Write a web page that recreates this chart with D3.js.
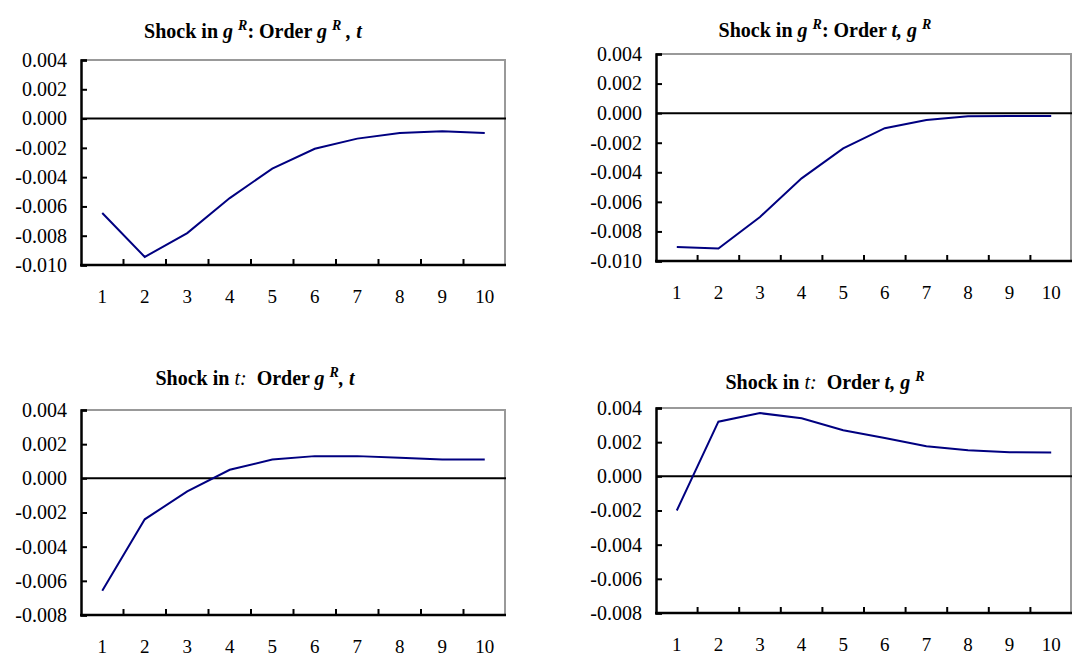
<!DOCTYPE html>
<html>
<head>
<meta charset="utf-8">
<script src="https://cdn.jsdelivr.net/npm/d3@7"></script>
<style>
  body { margin: 0; background: #fff; }
  svg { display: block; }
  text { font-family: "Liberation Serif", "Times New Roman", serif; }
</style>
</head>
<body>
<script>
// data
var periods = [1, 2, 3, 4, 5, 6, 7, 8, 9, 10];
var shockGR_orderGRt = [-0.00645, -0.00945, -0.00782, -0.00543, -0.00342, -0.00206, -0.00137, -0.00099, -0.00086, -0.00099];
var shockGR_orderTGR = [-0.00905, -0.00916, -0.00702, -0.00441, -0.00238, -0.00102, -0.00046, -0.00021, -0.0002, -0.0002];
var shockT_orderGRt = [-0.00658, -0.00240, -0.00076, 0.00050, 0.00110, 0.00130, 0.00130, 0.00120, 0.00110, 0.00110];
var shockT_orderTGR = [-0.0020, 0.0032, 0.0037, 0.0034, 0.0027, 0.00225, 0.00176, 0.00153, 0.00141, 0.0014];
var ticksTop = [-0.010, -0.008, -0.006, -0.004, -0.002, 0.000, 0.002, 0.004];
var ticksBottom = [-0.008, -0.006, -0.004, -0.002, 0.000, 0.002, 0.004];

// title pieces: [text, italic, bold, superscript]
var title1 = [["Shock in ", 0, 1, 0], ["g", 1, 1, 0], ["R", 1, 1, 1], [": Order ", 0, 1, 0], ["g", 1, 1, 0], ["R", 1, 1, 1], [" , t", 1, 1, 0]];
var title2 = [["Shock in ", 0, 1, 0], ["g", 1, 1, 0], ["R", 1, 1, 1], [": Order ", 0, 1, 0], ["t, g", 1, 1, 0], ["R", 1, 1, 1]];
var title3 = [["Shock in ", 0, 1, 0], ["t:", 1, 0, 0], ["  Order ", 0, 1, 0], ["g", 1, 1, 0], ["R", 1, 1, 1], [", t", 1, 1, 0]];
var title4 = [["Shock in ", 0, 1, 0], ["t:", 1, 0, 0], ["  Order ", 0, 1, 0], ["t, g", 1, 1, 0], ["R", 1, 1, 1]];

var panels = [
  {values: shockGR_orderGRt, ticks: ticksTop, title: title1, left: 81, right: 506, top: 60, bottom: 265, tx: 253, ty: 38},
  {values: shockGR_orderTGR, ticks: ticksTop, title: title2, left: 656, right: 1072, top: 54, bottom: 261, tx: 825, ty: 37},
  {values: shockT_orderGRt, ticks: ticksBottom, title: title3, left: 81, right: 506, top: 410, bottom: 615, tx: 255, ty: 385},
  {values: shockT_orderTGR, ticks: ticksBottom, title: title4, left: 656, right: 1072, top: 408, bottom: 613, tx: 825, ty: 389}
];

var svg = d3.select("body").append("svg")
    .attr("width", 1072)
    .attr("height", 657);

panels.forEach(function(p) {
  var x = d3.scaleBand().domain(periods).range([p.left, p.right]);
  var y = d3.scaleLinear().domain(d3.extent(p.ticks)).range([p.bottom, p.top]);
  var g = svg.append("g");

  // grey frame (top and right)
  g.append("line").attr("x1", p.left).attr("x2", p.right).attr("y1", p.top).attr("y2", p.top)
      .attr("stroke", "#999").attr("stroke-width", 2);
  g.append("line").attr("x1", p.right - 1).attr("x2", p.right - 1).attr("y1", p.top).attr("y2", p.bottom)
      .attr("stroke", "#999").attr("stroke-width", 2);

  // zero line
  g.append("line").attr("x1", p.left).attr("x2", p.right).attr("y1", y(0)).attr("y2", y(0))
      .attr("stroke", "#000").attr("stroke-width", 2);

  // y axis, ticks pointing inward
  var yAxis = g.append("g")
      .attr("transform", "translate(" + p.left + ",0)")
      .call(d3.axisRight(y).tickValues(p.ticks).tickSize(6).tickFormat(function(d) {
        return d3.format(".3f")(d).replace("\u2212", "-");
      }));
  yAxis.select(".domain").attr("stroke-width", 2.5);
  yAxis.selectAll(".tick line").attr("stroke-width", 2);
  yAxis.selectAll(".tick text")
      .attr("x", -14).attr("text-anchor", "end")
      .style("font-family", "'Liberation Serif', serif")
      .style("font-size", "20px");

  // x axis: ticks between categories, pointing up
  var bounds = periods.slice(1).map(function(d) { return x(d); });
  var xg = g.append("g");
  xg.append("line").attr("x1", p.left - 1).attr("x2", p.right).attr("y1", p.bottom).attr("y2", p.bottom)
      .attr("stroke", "#000").attr("stroke-width", 2.5);
  xg.selectAll(".xt").data(bounds).enter().append("line")
      .attr("x1", function(d) { return d; }).attr("x2", function(d) { return d; })
      .attr("y1", p.bottom).attr("y2", p.bottom - 6)
      .attr("stroke", "#000").attr("stroke-width", 2);
  xg.selectAll(".xl").data(periods).enter().append("text")
      .attr("x", function(d) { return x(d) + x.bandwidth() / 2; })
      .attr("y", p.bottom + 38)
      .attr("text-anchor", "middle")
      .attr("font-size", 19)
      .text(function(d) { return d; });

  // response line
  var line = d3.line()
      .x(function(d, i) { return x(periods[i]) + x.bandwidth() / 2; })
      .y(function(d) { return y(d); });
  g.append("path").datum(p.values)
      .attr("d", line)
      .attr("fill", "none")
      .attr("stroke", "#000080")
      .attr("stroke-width", 2);

  // title
  var t = g.append("text").attr("x", p.tx).attr("y", p.ty)
      .attr("text-anchor", "middle").attr("font-size", 20)
      .style("white-space", "pre");
  p.title.forEach(function(s, i) {
    var ts = t.append("tspan").text(s[0])
        .attr("font-style", s[1] ? "italic" : "normal")
        .attr("font-weight", s[2] ? "bold" : "normal");
    if (s[3]) ts.attr("font-size", 14).attr("dx", 5).attr("dy", -8);
    else if (i > 0 && p.title[i - 1][3]) ts.attr("dy", 8);
  });
});
</script>
</body>
</html>
